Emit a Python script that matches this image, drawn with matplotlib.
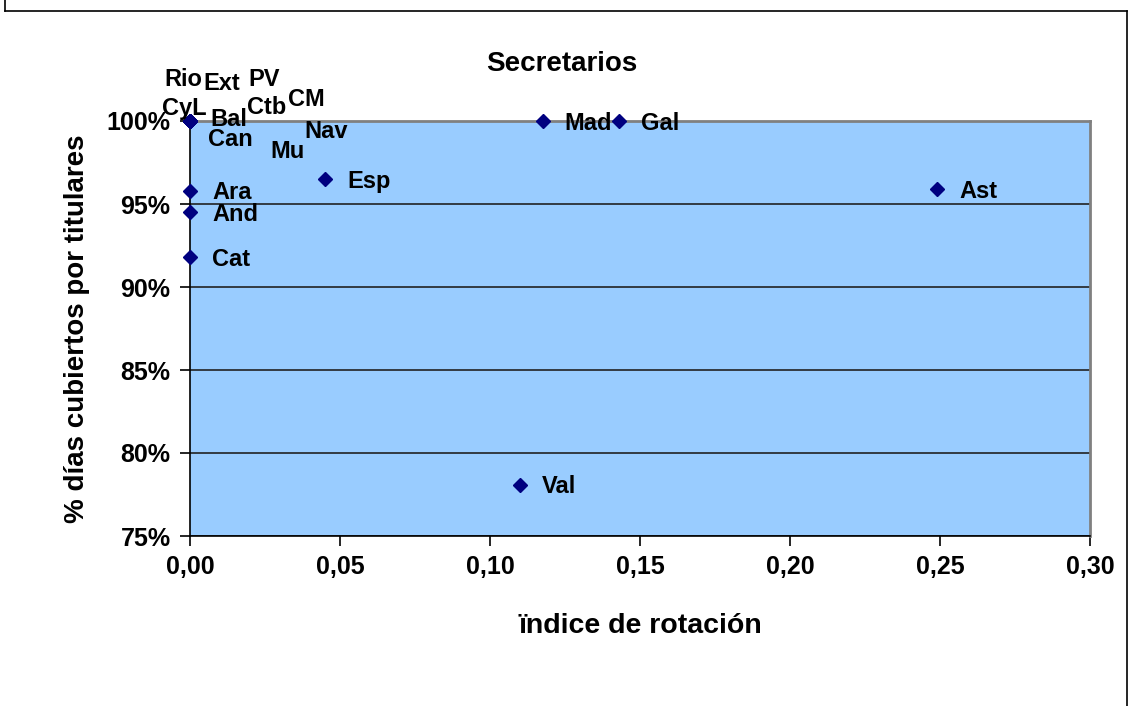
import matplotlib.pyplot as plt
from matplotlib.ticker import FuncFormatter, MultipleLocator
from matplotlib.lines import Line2D

plt.rcParams['font.family'] = ['Liberation Sans', 'DejaVu Sans']
plt.rcParams['font.weight'] = 'bold'

# datos (índice de rotación, % días cubiertos por titulares)
regiones = ['Rio', 'Ext', 'PV', 'CyL', 'Ctb', 'CM', 'Bal', 'Can', 'Mu', 'Nav',
            'Ara', 'And', 'Cat', 'Esp', 'Mad', 'Gal', 'Ast', 'Val']
rotacion = [0.0, 0.0, 0.0, 0.0, 0.0, 0.0, 0.0, 0.0, 0.0, 0.0,
            0.0, 0.0, 0.0, 0.045, 0.1175, 0.143, 0.249, 0.110]
cubiertos = [1.0, 1.0, 1.0, 1.0, 1.0, 1.0, 1.0, 1.0, 1.0, 1.0,
             0.958, 0.945, 0.918, 0.965, 1.0, 1.0, 0.959, 0.781]

# posicion de etiquetas (pixeles respecto al punto), como en el original
offsets = {
    'Rio': (-7, 41), 'Ext': (32, 38), 'PV': (74, 42), 'CyL': (-6, 13),
    'Ctb': (77, 13), 'CM': (116, 21), 'Bal': (39, 1), 'Can': (40, -18),
    'Mu': (98, -30), 'Nav': (136, -11),
}

fig = plt.figure(figsize=(11.3, 7.06), dpi=100)
ax = fig.add_axes([190 / 1130, 1 - 536 / 706, 900 / 1130, 415 / 706])
ax.set_facecolor('#99CCFF')

ax.plot(rotacion, cubiertos, linestyle='none', marker='D', markersize=7.5,
        color='#000080', clip_on=False, zorder=5)

for nombre, x, y in zip(regiones, rotacion, cubiertos):
    if nombre in offsets:
        ax.annotate(nombre, (x, y), xytext=offsets[nombre], textcoords='offset pixels',
                    ha='center', va='center', fontsize=17, fontweight='bold',
                    annotation_clip=False, zorder=6)
    else:
        ax.annotate(nombre, (x, y), xytext=(22, -2), textcoords='offset pixels',
                    ha='left', va='center', fontsize=17, fontweight='bold',
                    annotation_clip=False, zorder=6)

ax.set_xlim(0, 0.30)
ax.set_ylim(0.75, 1.0)
ax.xaxis.set_major_locator(MultipleLocator(0.05))
ax.yaxis.set_major_locator(MultipleLocator(0.05))
ax.xaxis.set_major_formatter(FuncFormatter(lambda v, p: f'{v:.2f}'.replace('.', ',')))
ax.yaxis.set_major_formatter(FuncFormatter(lambda v, p: f'{v * 100:.0f}%'))
ax.yaxis.grid(True, color='#222222', linewidth=1.2)
ax.set_axisbelow(True)

ax.tick_params(axis='both', labelsize=18, direction='out', length=7, width=1.2,
               color='black', pad=7)
for lab in ax.get_xticklabels() + ax.get_yticklabels():
    lab.set_fontweight('bold')

ax.spines['left'].set_color('black')
ax.spines['bottom'].set_color('black')
ax.spines['left'].set_linewidth(1.2)
ax.spines['bottom'].set_linewidth(1.2)
ax.spines['top'].set_color('#808080')
ax.spines['right'].set_color('#808080')
ax.spines['top'].set_linewidth(2)
ax.spines['right'].set_linewidth(2)

ax.set_xlabel('ïndice de rotación', fontsize=20.5, fontweight='bold', labelpad=24)
ax.set_ylabel('% días cubiertos por titulares', fontsize=20, fontweight='bold', labelpad=12)
fig.text(562 / 1130, 1 - 64 / 706, 'Secretarios', ha='center', va='center',
         fontsize=20, fontweight='bold')

# marco exterior
for xs, ys in [([5, 5], [0, 11]), ([5, 1127], [11, 11]), ([1127, 1127], [11, 706])]:
    fig.add_artist(Line2D([v / 1130 for v in xs], [1 - v / 706 for v in ys],
                          color='black', linewidth=1.2))

fig.savefig('out.png', dpi=100)
